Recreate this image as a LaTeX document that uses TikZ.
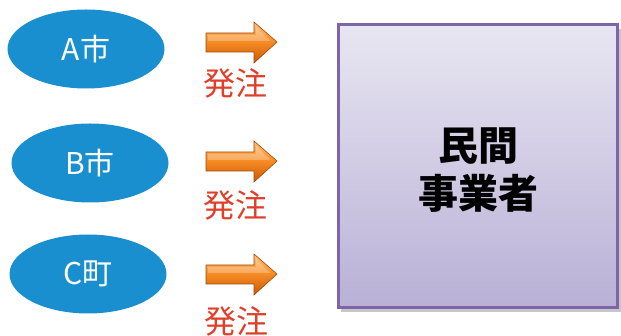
\documentclass[tikz,border=0pt]{standalone}
\usepackage{fontspec}
\setmainfont{Noto Sans CJK JP}
\usetikzlibrary{shapes.geometric}
\definecolor{cityblue}{HTML}{1A8FD0}
\definecolor{ordred}{HTML}{E0402A}
\definecolor{boxline}{HTML}{7D65A8}
\definecolor{boxtop}{HTML}{E8E6F2}
\definecolor{boxbot}{HTML}{B9B0D6}
\definecolor{arrtop}{HTML}{FFC27A}
\definecolor{arrmid}{HTML}{F58A22}
\definecolor{arrbot}{HTML}{C85A08}
\tikzset{
  city/.style={ellipse, fill=cityblue, minimum width=157pt, minimum height=79pt, inner sep=0pt,
    text=white, font=\fontsize{30}{34}\selectfont},
  order/.style={text=ordred, font=\fontsize{32}{36}\selectfont, inner sep=0pt},
  arrowshape/.style={top color=arrtop, bottom color=arrbot, middle color=arrmid, draw=arrbot!80!black, line width=0.6pt},
  arrowshine/.style={fill=white, opacity=0.25},
}
\newcommand{\orderarrow}[2]{%
  \path[arrowshape] (206,#1-9) -- (254,#1-9) -- (254,#1-20) -- (277,#1) -- (254,#1+21) -- (254,#1+10) -- (206,#1+10) -- cycle;
  \path[arrowshine] (208,#1-7) -- (256,#1-7) -- (256,#1-15) -- (270,#1-1) -- (208,#1-1) -- cycle;
  \coordinate (#2) at (277,#1);
}
\begin{document}
\begin{tikzpicture}[x=1pt,y=-1pt]
\useasboundingbox (0,0) rectangle (621,336);
% cities
\node[city] (a) at (86,49) {A市};
\node[city] (b) at (90,163) {B市};
\node[city] (c) at (88,274) {C町};
% arrows
\orderarrow{42}{ta}
\orderarrow{161}{tb}
\orderarrow{274}{tc}
% labels
\node[order] (oa) at (235,83) {発注};
\node[order] (ob) at (235,205) {発注};
\node[order] (oc) at (236,321) {発注};
% box
\fill[black, opacity=0.22] (341,29) rectangle (621,312);
\path[top color=boxtop, bottom color=boxbot, draw=boxline, line width=3pt] (338,25) rectangle (617,308);
\node[font=\bfseries\fontsize{40}{48}\selectfont, align=center, inner sep=0pt] (biz) at (478,170) {民間\\事業者};
\end{tikzpicture}
\end{document}
